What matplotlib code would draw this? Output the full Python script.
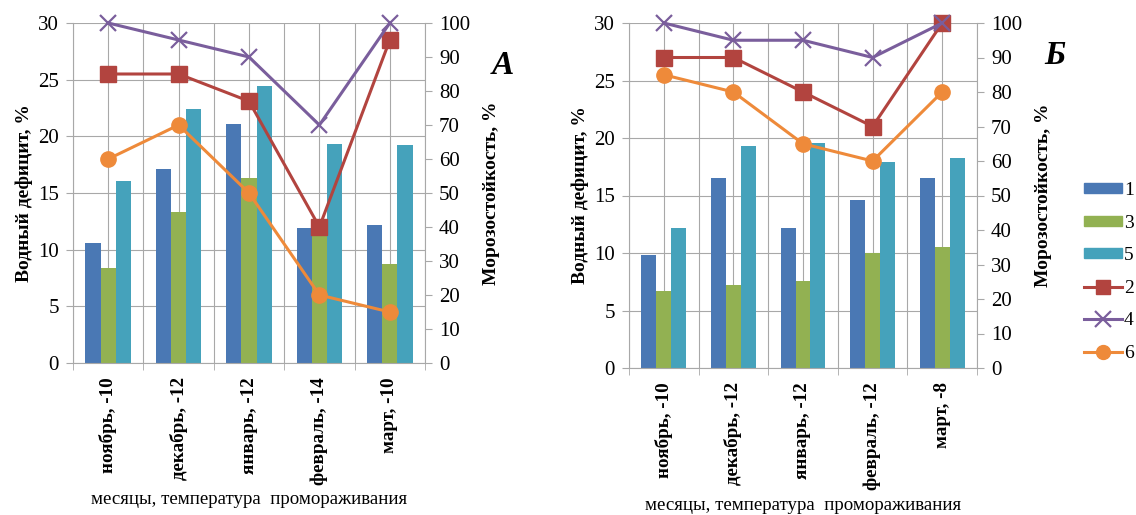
import matplotlib as mpl
mpl.use('Agg')
import matplotlib.pyplot as plt
import numpy as np
from matplotlib.patches import Patch
from matplotlib.lines import Line2D

plt.rcParams['font.family'] = ['Liberation Serif', 'DejaVu Serif']

# Panel A data
months_a = ['ноябрь, -10', 'декабрь, -12', 'январь, -12', 'февраль, -14', 'март, -10']
s1_a = [10.6, 17.1, 21.1, 11.9, 12.2]
s3_a = [8.4, 13.3, 16.3, 11.5, 8.7]
s5_a = [16.1, 22.4, 24.4, 19.3, 19.2]
s2_a = [85, 85, 77, 40, 95]
s4_a = [100, 95, 90, 70, 100]
s6_a = [60, 70, 50, 20, 15]

# Panel B data
months_b = ['ноябрь, -10', 'декабрь, -12', 'январь, -12', 'февраль, -12', 'март, -8']
s1_b = [9.8, 16.5, 12.2, 14.6, 16.5]
s3_b = [6.7, 7.2, 7.6, 10.0, 10.5]
s5_b = [12.2, 19.3, 19.6, 17.9, 18.3]
s2_b = [90, 90, 80, 70, 100]
s4_b = [100, 95, 95, 90, 100]
s6_b = [85, 80, 65, 60, 80]

C1, C3, C5 = '#4A78B4', '#92B152', '#45A2BB'
C2, C4, C6 = '#B2443F', '#7A5E9C', '#EE8A3A'
GRID = '#a8a8a8'


def panel(rect, months, b1, b3, b5, l2, l4, l6, letter, letter_xy, xlab_y):
    ax = fig.add_axes(rect)
    x = np.arange(len(months))
    w = 0.215
    ax.bar(x - w, b1, w, color=C1, zorder=2)
    ax.bar(x, b3, w, color=C3, zorder=2)
    ax.bar(x + w, b5, w, color=C5, zorder=2)
    ax.set_xlim(-0.5, len(months) - 0.5)
    ax.set_ylim(0, 30)
    ax.set_yticks(np.arange(0, 31, 5))
    ax.set_xticks(x)
    ax.set_xticks(np.arange(-0.5, len(months), 1), minor=True)
    ax.set_xticklabels(months, rotation=90, fontweight='bold', fontsize=13.7)
    ax.tick_params(axis='x', which='major', length=0, pad=10)
    ax.tick_params(axis='x', which='minor', length=5, color=GRID)
    ax.tick_params(axis='y', length=5, color=GRID, labelsize=15, pad=5)
    ax.grid(True, which='both', axis='x', color=GRID, lw=0.8, zorder=0)
    ax.grid(True, which='major', axis='y', color=GRID, lw=0.8, zorder=0)
    ax.set_axisbelow(True)
    for s in ['top', 'right']:
        ax.spines[s].set_visible(False)
    for s in ['left', 'bottom']:
        ax.spines[s].set_color(GRID)
    ax.set_ylabel('Водный дефицит, %', fontweight='bold', fontsize=14, labelpad=4)
    ax.set_xlabel('месяцы, температура  промораживания', fontsize=13.6, va='center')
    ax.xaxis.set_label_coords(0.5, xlab_y)

    ax2 = ax.twinx()
    ax2.plot(x, l2, color=C2, lw=2.2, marker='s', ms=11, zorder=3)
    ax2.plot(x, l4, color=C4, lw=2.2, marker='x', ms=12, mew=1.6, zorder=3)
    ax2.plot(x, l6, color=C6, lw=2.2, marker='o', ms=11, zorder=3)
    ax2.set_ylim(0, 100)
    ax2.set_yticks(np.arange(0, 101, 10))
    ax2.tick_params(axis='y', length=5, color=GRID, labelsize=15, pad=5)
    for s in ['top', 'left', 'bottom']:
        ax2.spines[s].set_visible(False)
    ax2.spines['right'].set_color(GRID)
    ax2.set_ylabel('Морозостойкость, %', fontweight='bold', fontsize=14, labelpad=9)
    for a in (ax, ax2):
        for line in a.lines:
            line.set_clip_on(False)
    fig.text(letter_xy[0], letter_xy[1], letter, fontsize=24, fontweight='bold',
             fontstyle='italic', ha='center', va='center')
    return ax


fig = plt.figure(figsize=(11.36, 5.15), dpi=100)

panel([73 / 1136, 1 - 363 / 515, 352 / 1136, 340 / 515],
      months_a, s1_a, s3_a, s5_a, s2_a, s4_a, s6_a, 'А', (503 / 1136, 1 - 66 / 515),
      (363 - 500) / 340)
panel([629 / 1136, 1 - 368 / 515, 348 / 1136, 345 / 515],
      months_b, s1_b, s3_b, s5_b, s2_b, s4_b, s6_b, 'Б', (1055 / 1136, 1 - 55 / 515),
      (368 - 505) / 345)

handles = [
    Patch(color=C1, label='1'),
    Patch(color=C3, label='3'),
    Patch(color=C5, label='5'),
    Line2D([], [], color=C2, lw=2.2, marker='s', ms=10, label='2'),
    Line2D([], [], color=C4, lw=2.2, marker='x', ms=11, mew=1.6, label='4'),
    Line2D([], [], color=C6, lw=2.2, marker='o', ms=10, label='6'),
]
fig.legend(handles=handles, loc='center left', bbox_to_anchor=(1084 / 1136, 1 - 272 / 515),
           frameon=False, fontsize=14, handlelength=1.95, handleheight=0.4,
           handletextpad=0.1, labelspacing=0.8, borderpad=0, borderaxespad=0)

fig.savefig('out.png', dpi=100)
